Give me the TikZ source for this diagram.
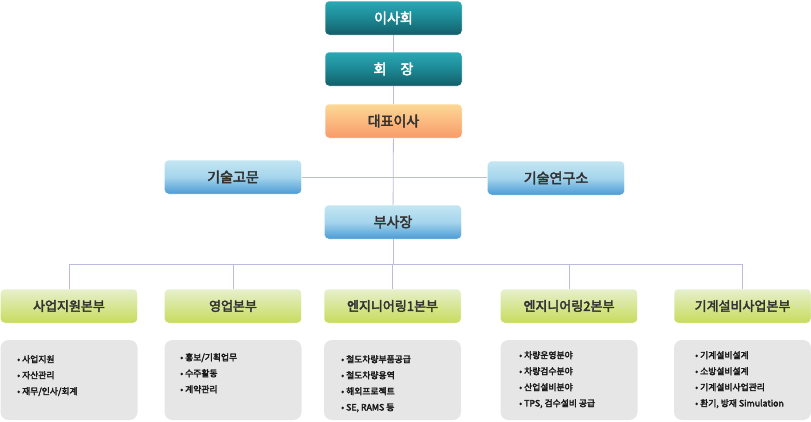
\documentclass[tikz,border=0pt]{standalone}
\usepackage{fontspec}
\setmainfont{Noto Sans CJK KR}
\newfontfamily\boldkr{Noto Sans CJK KR}[FakeBold=3]
\usetikzlibrary{positioning}
\definecolor{tealtop}{HTML}{2BA9B5}
\definecolor{tealmid}{HTML}{1C8894}
\definecolor{tealbot}{HTML}{145E69}
\definecolor{orgtop}{HTML}{FDD996}
\definecolor{orgbot}{HTML}{F89A6A}
\definecolor{bluetop}{HTML}{C4E6F2}
\definecolor{bluemid}{HTML}{A5D5EC}
\definecolor{bluebot}{HTML}{4A9AD5}
\definecolor{grntop}{HTML}{E6F0CD}
\definecolor{grnbot}{HTML}{C8DB5C}
\definecolor{itembg}{HTML}{E6E6E6}
\definecolor{linkcol}{HTML}{BBBBE0}

\tikzset{
  orgbox/.style={rounded corners=4pt, minimum width=137pt, minimum height=34pt,
    inner sep=0pt, draw=white, line width=0.5pt, font=\boldkr\fontsize{14}{14}\selectfont},
  tealbox/.style={orgbox, top color=tealtop, bottom color=tealbot, middle color=tealmid, text=white},
  orangebox/.style={orgbox, top color=orgtop, bottom color=orgbot, text=black!80},
  bluebox/.style={orgbox, top color=bluetop, bottom color=bluebot, middle color=bluemid, text=black!80},
  greenbox/.style={orgbox, top color=grntop, bottom color=grnbot, text=black!80,
    font=\boldkr\fontsize{13}{13}\selectfont},
  itembox/.style={rounded corners=8pt, fill=itembg, minimum width=137pt, minimum height=80pt},
  itemtext/.style={anchor=north west, inner sep=0pt, align=left, text=black!90,
    font=\boldkr\fontsize{8.8}{16}\selectfont},
  link/.style={draw=linkcol, line width=0.8pt}
}

\begin{document}
\begin{tikzpicture}[x=1pt, y=-1pt]
  \useasboundingbox (0,0) rectangle (811,421);

  % top of the chart
  \node[tealbox]   (board)   at (393.5,18)  {이사회};
  \node[tealbox]   (chair)   at (393.5,69)  {회\quad 장};
  \node[orangebox] (ceo)     at (393.5,121) {대표이사};
  \node[bluebox]   (advisor) at (233,177)   {기술고문};
  \node[bluebox]   (lab)     at (556,178)   {기술연구소};
  \node[bluebox]   (vp)      at (393,222)   {부사장};

  % divisions with their duties
  \foreach \name/\x/\label in {div1/69/사업지원본부, div2/233/영업본부,
                               div3/392.5/엔지니어링1본부, div4/569/엔지니어링2본부,
                               div5/742.5/기계설비사업본부} {
    \node[greenbox] (\name) at (\x,306) {\label};
    \node[itembox] (\name-items) at (\x,380) {};
  }

  \node[itemtext] (items1) at (17,355)  {• 사업지원\\• 자산관리\\• 재무/인사/회계};
  \node[itemtext] (items2) at (180,353) {• 홍보/기획업무\\• 수주활동\\• 계약관리};
  \node[itemtext] (items3) at (341,355) {• 철도차량부품공급\\• 철도차량용역\\• 해외프로젝트\\• SE, RAMS 등};
  \node[itemtext] (items4) at (519,351) {• 차량운영분야\\• 차량검수분야\\• 산업설비분야\\• TPS, 검수설비 공급};
  \node[itemtext] (items5) at (695,351) {• 기계설비설계\\• 소방설비설계\\• 기계설비사업관리\\• 환기, 방재 Simulation};

  % connectors
  \coordinate (bar) at (0,264);
  \path[link] (board) -- (chair);
  \path[link] (chair) -- (ceo);
  \path[link] (ceo) -- (vp);
  \path[link] (advisor.east) -- (advisor.east -| lab.west);
  \path[link] (vp.south) -- (vp.south |- bar);
  \path[link] (div1.north) -- (div1.north |- bar) -- (div5.north |- bar) -- (div5.north);
  \foreach \name in {div2,div3,div4}
    \path[link] (\name.north) -- (\name.north |- bar);
\end{tikzpicture}
\end{document}
